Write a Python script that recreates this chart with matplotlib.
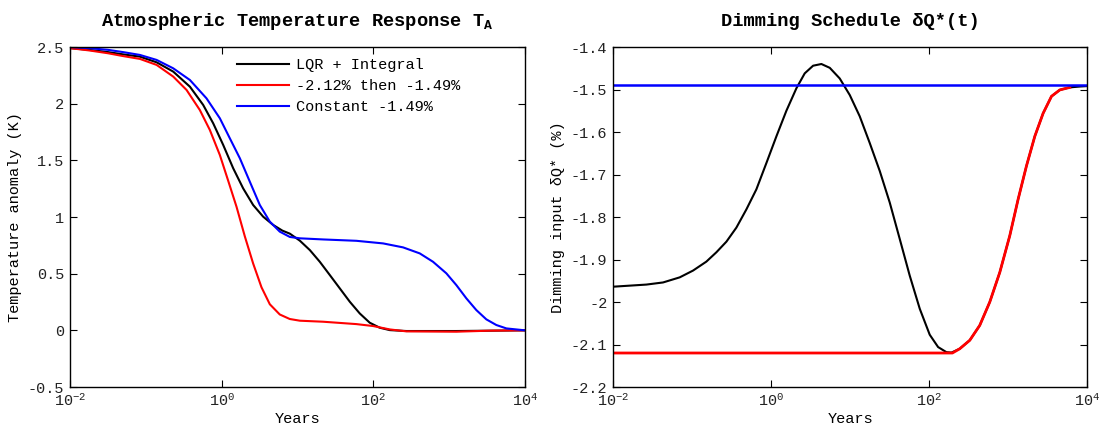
import numpy as np
import matplotlib
matplotlib.use("Agg")
import matplotlib.pyplot as plt

plt.rcParams['font.family'] = ['Liberation Mono', 'DejaVu Sans']
plt.rcParams['mathtext.fontset'] = 'custom'
plt.rcParams['mathtext.rm'] = 'Liberation Mono'
plt.rcParams['mathtext.it'] = 'Liberation Mono'
plt.rcParams['mathtext.bf'] = 'Liberation Mono:bold'
plt.rcParams['axes.unicode_minus'] = False

# ---- temperature response (log10 of years, anomaly in K) ----
lqr_T_logyr = [-2, -1.75, -1.5, -1.3, -1.078, -0.858, -0.639, -0.419, -0.244, -0.112, 0.02,
               0.152, 0.283, 0.415, 0.547, 0.679, 0.8, 0.899, 1.031, 1.163, 1.294, 1.426,
               1.558, 1.69, 1.821, 1.953, 2.085, 2.217, 2.436, 3.095, 4]
lqr_T = [2.49, 2.475, 2.455, 2.435, 2.415, 2.365, 2.283, 2.15, 1.989, 1.827, 1.636,
         1.43, 1.253, 1.106, 1.003, 0.93, 0.88, 0.853, 0.791, 0.708, 0.605, 0.488,
         0.37, 0.252, 0.149, 0.067, 0.023, 0.002, -0.006, -0.006, 0.0]

step_T_logyr = [-2, -1.75, -1.5, -1.3, -1.078, -0.858, -0.639, -0.463, -0.288, -0.156, -0.024,
                0.086, 0.196, 0.305, 0.415, 0.525, 0.635, 0.766, 0.898, 1.031, 1.338, 1.777,
                1.997, 2.217, 2.436, 3.095, 3.534, 4]
step_T = [2.49, 2.47, 2.445, 2.42, 2.395, 2.342, 2.239, 2.121, 1.944, 1.768, 1.547,
          1.32, 1.09, 0.83, 0.59, 0.38, 0.23, 0.14, 0.10, 0.085, 0.076, 0.055,
          0.038, 0.008, -0.009, -0.012, -0.003, 0.0]

const_T_logyr = [-2, -1.75, -1.5, -1.3, -1.078, -0.858, -0.639, -0.419, -0.2, -0.024, 0.108,
                 0.24, 0.371, 0.503, 0.635, 0.766, 0.899, 1.03, 1.338, 1.777, 2.129, 2.392,
                 2.612, 2.787, 2.963, 3.095, 3.227, 3.358, 3.49, 3.622, 3.754, 4]
const_T = [2.50, 2.49, 2.475, 2.455, 2.43, 2.386, 2.312, 2.209, 2.047, 1.871, 1.694,
           1.518, 1.312, 1.106, 0.959, 0.871, 0.824, 0.812, 0.802, 0.79, 0.767, 0.732,
           0.679, 0.605, 0.503, 0.399, 0.282, 0.179, 0.097, 0.047, 0.017, 0.0]

# ---- dimming schedules (log10 of years, percent) ----
lqr_Q_logyr = [-2, -1.578, -1.367, -1.156, -0.987, -0.819, -0.692, -0.565, -0.439, -0.312,
               -0.186, -0.059, 0.068, 0.194, 0.321, 0.426, 0.532, 0.637, 0.743, 0.869, 0.996,
               1.122, 1.249, 1.376, 1.502, 1.629, 1.755, 1.882, 2.008, 2.114, 2.219, 2.283,
               2.388, 2.515, 2.641, 2.768, 2.895, 3.021, 3.127, 3.232, 3.338, 3.443, 3.549,
               3.654, 3.781, 3.907, 4]
lqr_Q = [-1.964, -1.959, -1.954, -1.942, -1.926, -1.905, -1.883, -1.858, -1.825, -1.782,
         -1.735, -1.673, -1.610, -1.550, -1.497, -1.462, -1.444, -1.440, -1.449, -1.474, -1.513,
         -1.563, -1.626, -1.692, -1.766, -1.852, -1.938, -2.016, -2.077, -2.106, -2.118, -2.119,
         -2.110, -2.090, -2.055, -2.0, -1.930, -1.844, -1.758, -1.680, -1.610, -1.556, -1.516,
         -1.501, -1.495, -1.493, -1.492]

step_Q_logyr = [-2, 2.295, 2.388, 2.515, 2.641, 2.768, 2.895, 3.021, 3.127, 3.232, 3.338,
                3.443, 3.549, 3.654, 3.781]
step_Q = [-2.12, -2.12, -2.110, -2.090, -2.055, -2.0, -1.930, -1.844, -1.758, -1.680, -1.610,
          -1.556, -1.516, -1.501, -1.495]

const_Q_logyr = [-2, 4]
const_Q = [-1.49, -1.49]

labels = ['LQR + Integral', '-2.12% then -1.49%', 'Constant -1.49%']
colors = ['black', '#ff0000', '#0000ff']

left_yticks = [-0.5, 0, 0.5, 1, 1.5, 2, 2.5]
left_yticklabels = ['-0.5', '0', '0.5', '1', '1.5', '2', '2.5']
right_yticks = [-2.2, -2.1, -2.0, -1.9, -1.8, -1.7, -1.6, -1.5, -1.4]
right_yticklabels = ['-2.2', '-2.1', '-2', '-1.9', '-1.8', '-1.7', '-1.6', '-1.5', '-1.4']
xticks = [1e-2, 1e0, 1e2, 1e4]
xticklabels = [r'$10^{-2}$', r'$10^{0}$', r'$10^{2}$', r'$10^{4}$']


def yrs(lg):
    return 10.0 ** np.asarray(lg, dtype=float)


fig = plt.figure(figsize=(10.99, 4.25), dpi=100)
ax1 = fig.add_axes([0.0637, 0.0894, 0.414, 0.8])
ax2 = fig.add_axes([0.5578, 0.0894, 0.4314, 0.8])

FS = 11

# Left panel: temperature anomaly
ax1.semilogx(yrs(lqr_T_logyr), lqr_T, color=colors[0], lw=1.5, label=labels[0])
ax1.semilogx(yrs(step_T_logyr), step_T, color=colors[1], lw=1.5, label=labels[1])
ax1.semilogx(yrs(const_T_logyr), const_T, color=colors[2], lw=1.5, label=labels[2])
ax1.set_xlim(1e-2, 1e4)
ax1.set_ylim(-0.5, 2.5)
ax1.set_yticks(left_yticks)
ax1.set_yticklabels(left_yticklabels)
ax1.set_ylabel('Temperature anomaly (K)', fontsize=FS)
ax1.set_title(r'Atmospheric Temperature Response T$_\mathbf{A}$', fontsize=13.5,
              fontweight='bold', pad=15)
ax1.legend(loc='upper left', bbox_to_anchor=(0.353, 0.985), frameon=False,
           fontsize=FS, handlelength=3.45, handletextpad=0.45, labelspacing=0.45,
           borderaxespad=0)

# Right panel: dimming schedule
ax2.semilogx(yrs(lqr_Q_logyr), lqr_Q, color=colors[0], lw=1.5)
ax2.semilogx(yrs(step_Q_logyr), step_Q, color=colors[1], lw=2.0)
ax2.semilogx(yrs(const_Q_logyr), const_Q, color=colors[2], lw=1.8)
ax2.set_xlim(1e-2, 1e4)
ax2.set_ylim(-2.2, -1.4)
ax2.set_yticks(right_yticks)
ax2.set_yticklabels(right_yticklabels)
ax2.set_ylabel('Dimming input \u03b4Q* (%)', fontsize=FS)
ax2.set_title('Dimming Schedule \u03b4Q*(t)', fontsize=13.5, fontweight='bold', pad=15)

for ax in (ax1, ax2):
    ax.set_xticks(xticks)
    ax.set_xticklabels(xticklabels)
    ax.xaxis.set_minor_locator(matplotlib.ticker.NullLocator())
    ax.set_xlabel('Years', fontsize=FS, labelpad=2)
    ax.tick_params(direction='in', length=5, width=0.8, top=True, right=True,
                   labelsize=FS, colors='black', labelcolor='#222222', pad=4)
    for s in ax.spines.values():
        s.set_linewidth(1.0)

fig.savefig('out.png', dpi=100)
